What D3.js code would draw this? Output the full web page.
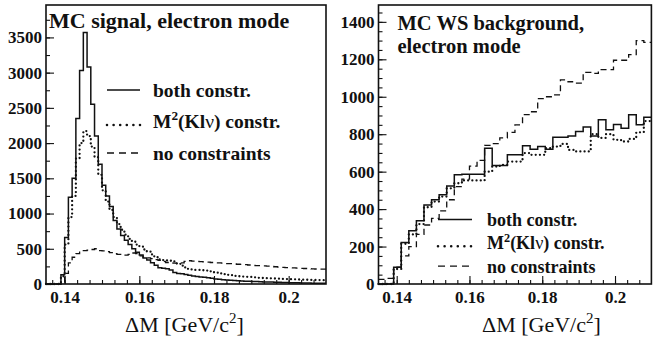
<!DOCTYPE html>
<html>
<head>
<meta charset="utf-8">
<script src="https://cdn.jsdelivr.net/npm/d3@7"></script>
<style>
  body { margin: 0; background: #fff; }
  svg { display: block; }
  text { font-family: "Liberation Serif", "Times New Roman", serif; fill: #111; }
</style>
</head>
<body>
<svg id="chart" width="653" height="337"></svg>
<script>
// ---- histogram binning (GeV/c^2) ----
const binLow = 0.135;
const binHigh = 0.21;

// Signal MC, electron mode: 75 bins of 1 MeV
const signalBoth = [
  0, 0, 0, 0, 130, 660, 1230, 1500, 2350, 3030,
  3570, 3080, 2550, 2100, 1700, 1400, 1250, 1100, 900, 780,
  690, 620, 560, 500, 450, 410, 370, 340, 300, 265,
  230, 225, 215, 200, 165, 150, 145, 135, 125, 115,
  108, 100, 95, 88, 80, 72, 66, 62, 57, 52,
  48, 45, 43, 40, 38, 36, 34, 32, 30, 28,
  27, 25, 24, 22, 20, 19, 17, 16, 15, 14,
  13, 12, 11, 10, 10
];
const signalKlnu = [
  0, 0, 0, 0, 110, 560, 950, 1250, 1780, 2000,
  2170, 2100, 1950, 1800, 1550, 1330, 1170, 1050, 950, 850,
  770, 700, 640, 600, 560, 530, 490, 460, 420, 380,
  350, 340, 335, 330, 320, 290, 260, 235, 215, 205,
  200, 200, 195, 190, 180, 165, 150, 140, 130, 125,
  115, 110, 105, 102, 100, 96, 92, 88, 85, 82,
  80, 78, 76, 72, 70, 68, 66, 64, 62, 60,
  60, 58, 57, 56, 55
];
const signalNone = [
  0, 0, 0, 0, 20, 150, 300, 380, 430, 460,
  475, 480, 490, 500, 475, 470, 460, 445, 430, 420,
  410, 410, 420, 440, 430, 400, 380, 370, 360, 345,
  335, 320, 305, 300, 295, 290, 300, 320, 330, 325,
  320, 318, 315, 310, 305, 300, 300, 295, 290, 288,
  284, 280, 278, 275, 270, 265, 262, 260, 258, 255,
  250, 245, 240, 236, 232, 230, 228, 225, 222, 220,
  218, 215, 213, 210, 210
];

// Wrong-sign background MC, electron mode: 36 bins
const wsBoth = [
  0, 0, 90, 221, 285, 338, 422, 450, 476, 523,
  583, 586, 586, 586, 725, 633, 633, 690, 690, 738,
  720, 734, 720, 784, 784, 791, 815, 838, 791, 877,
  824, 852, 832, 904, 850, 890
];
const wsKlnu = [
  0, 0, 80, 215, 265, 320, 410, 440, 467, 511,
  538, 553, 553, 553, 600, 627, 636, 654, 654, 699,
  690, 690, 725, 734, 748, 716, 708, 708, 800, 780,
  800, 770, 761, 775, 810, 870
];
const wsNone = [
  25, 30, 90, 150, 200, 265, 315, 350, 390, 450,
  520, 560, 630, 660, 740, 750, 780, 810, 850, 905,
  920, 990, 1000, 1010, 1090, 1080, 1073, 1130, 1125, 1145,
  1145, 1195, 1195, 1225, 1300, 1290
];

// ---- axis ticks ----
const xTickValues = [0.14, 0.16, 0.18, 0.2];
const signalYTicks = [0, 500, 1000, 1500, 2000, 2500, 3000, 3500];
const wsYTicks = [0, 200, 400, 600, 800, 1000, 1200, 1400];

// ---- legend entries ----
const legendNames = ["both constr.", "M2(Klv) constr.", "no constraints"];

const svg = d3.select("#chart");

const styles = {
  both: { width: 1.5, dash: null, cap: "butt" },
  klnu: { width: 2.3, dash: "0 4.2", cap: "round" },
  none: { width: 1.3, dash: "6 4", cap: "butt" }
};

function drawPanel(p) {
  const g = svg.append("g");
  const x = d3.scaleLinear().domain([binLow, binHigh]).range([p.left, p.right]);
  const y = d3.scaleLinear().domain([0, p.yMax]).range([p.bottom, p.top]);

  // histograms
  const line = d3.line().x(d => x(d[0])).y(d => y(d[1])).curve(d3.curveStepAfter);
  p.series.forEach(s => {
    const w = (binHigh - binLow) / s.values.length;
    const pts = s.values.map((v, i) => [binLow + i * w, v]);
    pts.push([binHigh, s.values[s.values.length - 1]]);
    const st = styles[s.key];
    g.append("path")
      .attr("d", line(pts))
      .attr("fill", "none")
      .attr("stroke", "#111")
      .attr("stroke-width", st.width)
      .attr("stroke-dasharray", st.dash)
      .attr("stroke-linecap", st.cap);
  });

  // minor ticks
  const xMinorStep = 0.02 / 6;
  const xMinor = d3.range(-2, 30).map(i => 0.14 + i * xMinorStep)
    .filter(v => v > binLow + 1e-6 && v < binHigh - 1e-4);
  const yMinor = d3.range(0, p.yMax, p.yMinorStep);

  const xMinorAxis = d3.axisBottom(x).tickValues(xMinor).tickSize(-4).tickFormat("");
  const yMinorAxis = d3.axisLeft(y).tickValues(yMinor).tickSize(-4).tickFormat("");
  const xAxis = d3.axisBottom(x).tickValues(xTickValues).tickSize(-8).tickPadding(7)
    .tickFormat(d => String(+d.toFixed(2)));
  const yAxis = d3.axisLeft(y).tickValues(p.yTicks).tickSize(-8).tickPadding(4)
    .tickFormat(d3.format("d"));

  [xMinorAxis, xAxis].forEach(ax => {
    const a = g.append("g").attr("transform", `translate(0,${p.bottom})`).call(ax);
    a.select(".domain").remove();
  });
  [yMinorAxis, yAxis].forEach(ax => {
    const a = g.append("g").attr("transform", `translate(${p.left},0)`).call(ax);
    a.select(".domain").remove();
  });
  g.selectAll(".tick line").attr("stroke", "#111").attr("stroke-width", 1.1);
  g.selectAll(".tick text")
    .attr("font-weight", "bold")
    .attr("font-size", 17)
    .attr("fill", "#111");

  // frame
  g.append("rect")
    .attr("x", p.left).attr("y", p.top)
    .attr("width", p.right - p.left).attr("height", p.bottom - p.top)
    .attr("fill", "none").attr("stroke", "#111").attr("stroke-width", 1.6);

  // title
  p.title.forEach((t, i) => {
    g.append("text")
      .attr("x", p.titleX).attr("y", p.titleY + i * p.titleStep)
      .attr("font-size", p.titleSize).attr("font-weight", "bold")
      .text(t);
  });

  // legend
  const L = p.legend;
  p.series.slice().reverse().forEach((s, i) => {
    const by = L.y + i * L.dy;
    const st = styles[s.key];
    const ly = by - (s.key === "klnu" ? 3 : 6.5);
    g.append("line")
      .attr("x1", L.x1).attr("x2", L.x2)
      .attr("y1", ly).attr("y2", ly)
      .attr("stroke", "#111")
      .attr("stroke-width", s.key === "klnu" ? 2.6 : (s.key === "both" ? 1.6 : 1.4))
      .attr("stroke-dasharray", s.key === "klnu" ? "0 6.6" : (s.key === "none" ? "7 5" : null))
      .attr("stroke-linecap", st.cap);
    const t = g.append("text")
      .attr("x", L.tx).attr("y", by)
      .attr("font-size", L.fs).attr("font-weight", "bold");
    if (s.key === "klnu") {
      t.append("tspan").text("M");
      t.append("tspan").attr("dy", -L.fs * 0.42).attr("font-size", L.fs * 0.68).text("2");
      t.append("tspan").attr("dy", L.fs * 0.42).text("(Kl");
      t.append("tspan").attr("font-weight", "normal").text("ν");
      t.append("tspan").text(") constr.");
    } else {
      t.text(s.label);
    }
  });

  // x axis title
  const xt = g.append("text")
    .attr("x", p.xTitleX).attr("y", 332)
    .attr("font-size", 22);
  xt.append("tspan").text("ΔM [GeV/c");
  xt.append("tspan").attr("dy", -9).attr("font-size", 15).text("2");
  xt.append("tspan").attr("dy", 9).text("]");
}

drawPanel({
  left: 46, right: 326, top: 5, bottom: 284,
  yMax: 3960, yMinorStep: 250, yTicks: signalYTicks,
  series: [
    { key: "none", values: signalNone, label: legendNames[2] },
    { key: "klnu", values: signalKlnu, label: legendNames[1] },
    { key: "both", values: signalBoth, label: legendNames[0] }
  ],
  title: ["MC signal, electron mode"], titleX: 49, titleY: 28, titleSize: 22, titleStep: 0,
  legend: { x1: 107, x2: 140, tx: 153, y: 96.5, dy: 31.5, fs: 19.5 },
  xTitleX: 125
});

drawPanel({
  left: 378.5, right: 651.4, top: 5, bottom: 284,
  yMax: 1490, yMinorStep: 50, yTicks: wsYTicks,
  series: [
    { key: "none", values: wsNone, label: legendNames[2] },
    { key: "klnu", values: wsKlnu, label: legendNames[1] },
    { key: "both", values: wsBoth, label: legendNames[0] }
  ],
  title: ["MC WS background,", "electron mode"], titleX: 397.5, titleY: 30, titleSize: 20.5, titleStep: 22.5,
  legend: { x1: 438, x2: 472, tx: 487, y: 226, dy: 23.3, fs: 18 },
  xTitleX: 482
});
</script>
</body>
</html>
